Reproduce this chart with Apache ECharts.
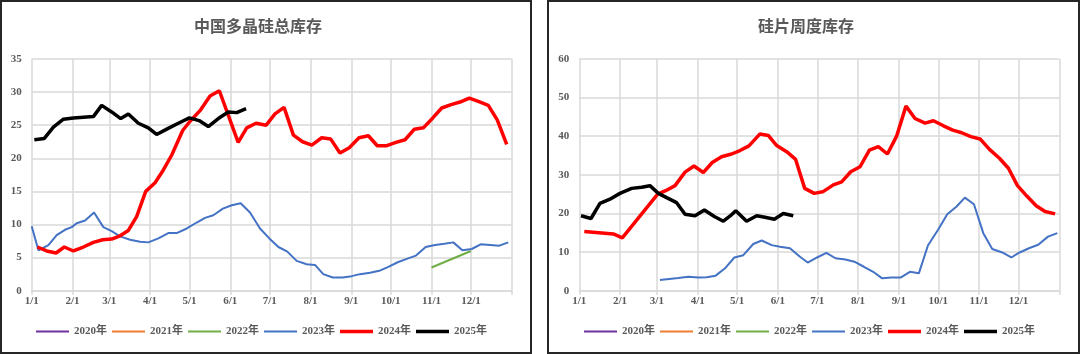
<!DOCTYPE html>
<html><head><meta charset="utf-8">
<script src="https://cdn.jsdelivr.net/npm/echarts@6/dist/echarts.min.js"></script>
<style>
html,body{margin:0;padding:0;width:1080px;height:354px;background:#fff;overflow:hidden;}
.panel{position:absolute;border:2px solid #262626;box-sizing:border-box;background:#fff;}
#chart{position:absolute;left:0;top:0;width:1080px;height:354px;}
</style></head>
<body>
<div class="panel" style="left:0;top:0;width:532px;height:354px;"></div>
<div class="panel" style="left:547px;top:0;width:533px;height:354px;"></div>
<div id="chart"></div>
<script>
// ---- data ----
const titleLeft = '中国多晶硅总库存';
const titleRight = '硅片周度库存';
const legendNames = ['2020年','2021年','2022年','2023年','2024年','2025年'];
const monthStarts = [0,31,59,90,120,151,181,212,243,273,304,334]; // day-of-year of tick labels
const monthLabels = ['1/1','2/1','3/1','4/1','5/1','6/1','7/1','8/1','9/1','10/1','11/1','12/1'];
const yearEnd = 365;

// Left: polysilicon total inventory (day-of-year, value)
const L2022_day = [304, 334];
const L2022_val = [3.5, 6.0];
const L2023_day = [0,5.1,12.7,19,25.3,30.4,34.2,40.6,47.4,54.5,60.8,67.2,74.8,82.4,88.7,96.3,103.9,110.3,117.9,125.5,131.8,138.1,145.4,152.1,158.9,166,173.6,180.7,187.6,194.4,201.5,209.1,215.4,221.7,228.9,236.5,243.3,249.6,257.3,264.3,271.2,278.3,285.2,292.2,299.6,306.7,313.8,320.6,327.5,334.6,341.4,348.5,355.6,362.4];
const L2023_val = [9.75,6.1,6.9,8.4,9.2,9.6,10.2,10.6,11.8,9.6,9.0,8.2,7.7,7.4,7.3,7.9,8.7,8.7,9.4,10.3,11.0,11.4,12.4,12.9,13.2,11.8,9.4,7.9,6.6,5.9,4.5,4.0,3.9,2.5,2.0,2.0,2.2,2.5,2.7,3.0,3.6,4.3,4.8,5.3,6.6,6.9,7.1,7.3,6.1,6.3,7.0,6.9,6.8,7.3];
const L2024_day = [4.3,11.4,18.5,24.8,31.7,39.3,46.9,54,60.8,67.2,73.5,79.8,86.7,93.8,100,106.5,114.8,120.4,128,135.6,142.7,157,163.5,170.6,178.3,185,191.9,199,206,213,220.5,227.4,234.4,241.5,248.9,256,262.8,270,277,283.9,291,297.8,305,311.8,318.9,325.7,332.8,339.6,347.2,354,361.2];
const L2024_val = [6.6,6.0,5.7,6.6,6.0,6.6,7.3,7.7,7.8,8.3,9.1,11.2,15.0,16.3,18.2,20.5,24.2,25.6,27.2,29.4,30.2,22.4,24.6,25.3,25.0,26.7,27.7,23.5,22.5,22.0,23.1,22.9,20.8,21.6,23.1,23.4,21.9,21.9,22.4,22.8,24.4,24.6,26.1,27.6,28.1,28.5,29.1,28.6,28.0,25.8,22.1];
const L2025_day = [2,9.6,16.5,24.1,31.7,39.3,46.9,53.2,60.8,67.7,73.5,81.1,88.7,95,102.7,111.5,119.9,127.3,134.3,141.9,149.5,155.9,163];
const L2025_val = [22.8,23.0,24.7,25.9,26.1,26.2,26.3,28.0,27.0,26.0,26.7,25.3,24.6,23.6,24.4,25.3,26.1,25.7,24.8,26.0,27.0,26.9,27.5];

// Right: wafer weekly inventory
const R2023_day = [61.3,75.3,82.9,90.5,96.8,103.7,110.8,117.9,124.7,132.3,138.7,146.3,152.6,160.2,167.8,173.7,180.8,187.9,194.8,202.4,209.2,216.4,223.5,230.3,237.2,244.3,251.4,258.2,265.1,272.7,279.8,286.9,293.2,300.1,307.2,314,321.6,328.5,334.8,341.9,349,356.4,363.5];
const R2023_val = [2.8,3.3,3.6,3.4,3.5,3.9,5.8,8.6,9.2,12.1,13.0,11.8,11.4,11.0,8.8,7.3,8.6,9.8,8.4,8.1,7.5,6.2,4.9,3.2,3.4,3.4,4.9,4.5,11.7,15.7,19.8,21.8,24.1,22.4,14.9,10.8,9.9,8.6,9.9,11.0,11.9,14.0,14.9];
const R2024_day = [3.8,25.9,32.7,59.6,65.7,72.8,80.4,87.2,94.3,101.1,108.2,115.8,122.2,129,137.4,143.7,150.1,157.7,164.5,171.4,178.6,185.1,193.2,199.5,206.4,213.5,220.6,227.4,234.3,241.4,248.4,255.3,262.9,269.3,276.9,284,290.8,297.7,304.8,311.9,319.5,326.3,333.2,340.3,347.4,354.2,361.8];
const R2024_val = [15.3,14.7,13.7,25.0,25.9,27.2,30.7,32.3,30.6,33.2,34.7,35.4,36.3,37.5,40.6,40.2,37.6,36.0,34.0,26.5,25.2,25.6,27.4,28.2,30.8,32.1,36.4,37.3,35.4,40.1,47.8,44.6,43.4,44.0,42.7,41.6,40.9,39.9,39.3,36.6,34.3,31.7,27.2,24.5,22.0,20.5,19.9];
const R2025_day = [1.3,8.9,15.7,23.3,30.9,39.8,47.4,53.7,60.1,66.4,74,80.4,88,95.1,102.7,109.5,114.5,119,127.2,134.9,141.2,148.3,155.1,162.7];
const R2025_val = [19.4,18.7,22.6,23.7,25.2,26.5,26.8,27.2,25.2,24.1,22.8,19.8,19.4,20.9,19.2,18.0,19.3,20.7,18.0,19.4,19.0,18.5,20.0,19.4];

// ---- chart ----
const colors = {'2020年':'#7030A0','2021年':'#ED7D31','2022年':'#70AD47','2023年':'#4472C4','2024年':'#FF0000','2025年':'#000000'};
const widths = {'2020年':2,'2021年':2,'2022年':2,'2023年':2,'2024年':3.5,'2025年':3.5};
const zip = (d, v) => d.map((x, i) => [x, v[i]]);
const gray = '#d9d9d9';
const txt = '#595959';
const font = '"Liberation Serif","Noto Sans CJK SC",serif';

function xAx(gi){
  return {type:'value', gridIndex:gi, min:0, max:yearEnd,
    axisLine:{show:true, lineStyle:{color:gray, width:1.5}},
    axisTick:{show:true, customValues: monthStarts.concat([yearEnd]), length:4, lineStyle:{color:gray, width:1.5}},
    axisLabel:{customValues: monthStarts, formatter: v => monthLabels[monthStarts.indexOf(v)] || '',
      color:txt, fontFamily:font, fontSize:11, fontWeight:'bold', margin:5},
    splitLine:{show:true, lineStyle:{color:gray, width:1.5}}};
}
function yAx(gi, max, interval){
  return {type:'value', gridIndex:gi, min:0, max:max, interval:interval,
    axisLine:{show:false}, axisTick:{show:false},
    axisLabel:{color:txt, fontFamily:font, fontSize:11, fontWeight:'bold', margin:10},
    splitLine:{show:true, lineStyle:{color:gray, width:1.5}}};
}
function ser(name, gi, d, v){
  return {name:name, type:'line', xAxisIndex:gi, yAxisIndex:gi, data: zip(d, v),
    symbol:'none', smooth:false, color:colors[name],
    lineStyle:{color:colors[name], width:widths[name]}};
}
function legend(left){
  return {left:left, top:326, padding:0, itemWidth:33, itemHeight:10, itemGap:5,
    data: legendNames.map(n => ({name:n, icon:'path://M0,0H33V' + widths[n] + 'H0Z', itemStyle:{color:colors[n]}})),
    selectedMode:false, textStyle:{color:txt, fontFamily:font, fontSize:11, fontWeight:'bold'}};
}

const chart = echarts.init(document.getElementById('chart'), null, {renderer:'canvas'});
chart.setOption({
  animation:false,
  backgroundColor:'transparent',
  grid:[{left:31.7, top:59, width:480, height:231.7}, {left:579.3, top:59, width:480, height:231.7}],
  xAxis:[xAx(0), xAx(1)],
  yAxis:[yAx(0, 35, 5), yAx(1, 60, 10)],
  legend:[legend(36), legend(584)],
  graphic:[
    {type:'text', x:258, y:26, style:{text:titleLeft, font:'bold 16px "Noto Sans CJK SC"', fill:txt, align:'center', verticalAlign:'middle'}},
    {type:'text', x:806, y:26, style:{text:titleRight, font:'bold 16px "Noto Sans CJK SC"', fill:txt, align:'center', verticalAlign:'middle'}}
  ],
  series:[
    ser('2020年', 0, [], []),
    ser('2021年', 0, [], []),
    ser('2022年', 0, L2022_day, L2022_val),
    ser('2023年', 0, L2023_day, L2023_val),
    ser('2024年', 0, L2024_day, L2024_val),
    ser('2025年', 0, L2025_day, L2025_val),
    ser('2023年', 1, R2023_day, R2023_val),
    ser('2024年', 1, R2024_day, R2024_val),
    ser('2025年', 1, R2025_day, R2025_val)
  ]
});
</script>
</body></html>
